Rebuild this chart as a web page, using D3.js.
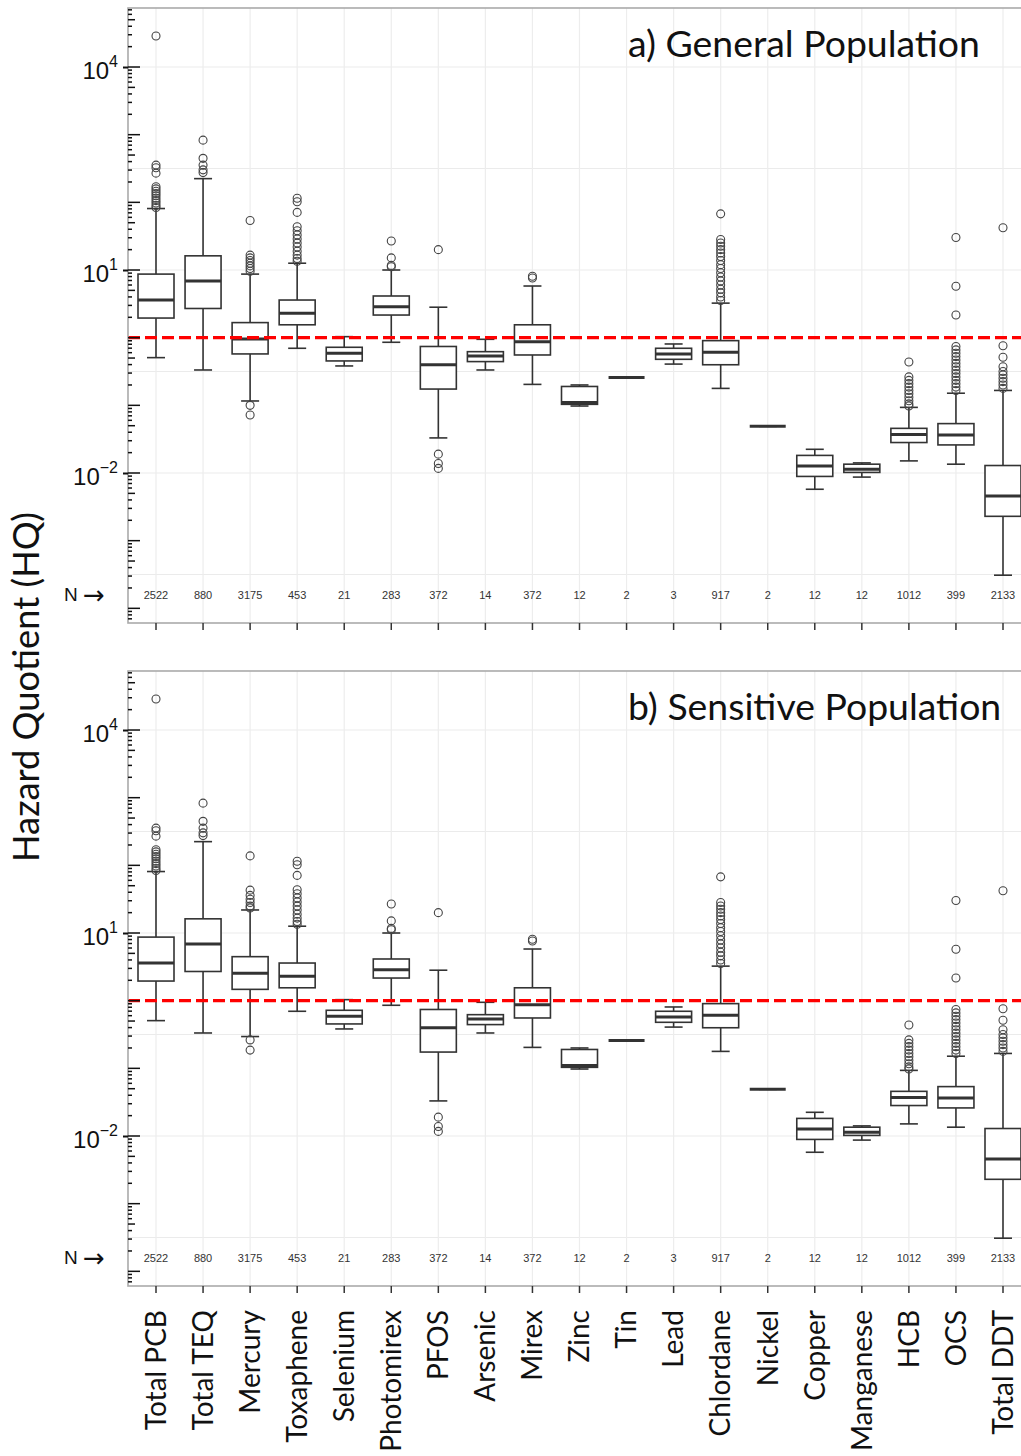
<!DOCTYPE html>
<html lang="en">
<head>
<meta charset="UTF-8">
<title>Hazard Quotient by contaminant</title>
<script src="https://cdn.jsdelivr.net/npm/d3@7/dist/d3.min.js"></script>
<style>
    body { margin: 0; background: #fff; }
    svg { display: block; }
</style>
</head>
<body>
<svg id="chart" width="1021" height="1456"></svg>
<script>
// categories and sample sizes (same for both panels)
const categories = ["Total PCB", "Total TEQ", "Mercury", "Toxaphene", "Selenium", "Photomirex", "PFOS",
    "Arsenic", "Mirex", "Zinc", "Tin", "Lead", "Chlordane", "Nickel", "Copper", "Manganese", "HCB", "OCS", "Total DDT"];
const sampleSizes = [2522, 880, 3175, 453, 21, 283, 372, 14, 372, 12, 2, 3, 917, 2, 12, 12, 1012, 399, 2133];

// a) general population - box statistics (HQ)
const genLower  = [0.507, 0.333, 0.116, 0.697, 0.382, 0.855, 0.033, 0.333, 0.204, 0.0977, 0.257, 0.407, 0.178, 0.049, 0.00575, 0.0087, 0.0151, 0.0135, 0.000309];
const genQ1     = [1.95, 2.7, 0.575, 1.55, 0.453, 2.16, 0.174, 0.443, 0.555, 0.1035, 0.257, 0.479, 0.398, 0.049, 0.0089, 0.0102, 0.0282, 0.026, 0.00229];
const genMedian = [3.6, 6.9, 0.955, 2.29, 0.589, 2.87, 0.398, 0.537, 0.871, 0.11, 0.257, 0.575, 0.608, 0.049, 0.0127, 0.01135, 0.0372, 0.0363, 0.00457];
const genQ3     = [8.7, 16.2, 1.67, 3.6, 0.721, 4.13, 0.741, 0.621, 1.55, 0.19, 0.257, 0.697, 0.904, 0.049, 0.0182, 0.0135, 0.0457, 0.0537, 0.0129];
const genUpper  = [81, 224, 8.7, 12.6, 1.035, 10, 2.82, 0.946, 5.8, 0.2, 0.257, 0.807, 3.24, 0.049, 0.0224, 0.0141, 0.0933, 0.151, 0.166];
const genOutliers = [
    [28800, 355, 324, 270, 170, 158, 146, 135, 125, 115, 106, 98, 90, 84],
    [830, 447, 355, 302, 275],
    [54, 16.6, 15.1, 13.8, 12.6, 11.5, 10.5, 9.6, 0.1, 0.072],
    [115, 102, 71, 43.6, 38, 33, 28.8, 25, 21.9, 19, 16.6, 14.8, 13.5],
    [],
    [26.9, 15.1, 11.7, 11.2],
    [20, 0.019, 0.0138, 0.0117],
    [],
    [8.1, 7.6],
    [], [], [],
    [67.6, 28.2, 25.1, 22.4, 20, 17.8, 15.8, 13.8, 12, 10.5, 9.1, 7.9, 6.9, 6.0, 5.2, 4.6, 4.0, 3.55],
    [], [], [],
    [0.437, 0.263, 0.234, 0.209, 0.186, 0.166, 0.148, 0.132, 0.117, 0.105, 0.098],
    [30.2, 5.75, 2.16, 0.741, 0.66, 0.589, 0.525, 0.468, 0.417, 0.372, 0.331, 0.295, 0.263, 0.234, 0.209, 0.186, 0.166],
    [42.2, 0.759, 0.513, 0.372, 0.316, 0.282, 0.251, 0.224, 0.2, 0.178]
];

// b) sensitive population - box statistics (HQ)
const senLower  = [0.507, 0.333, 0.295, 0.697, 0.382, 0.855, 0.033, 0.333, 0.204, 0.0977, 0.257, 0.407, 0.178, 0.049, 0.00575, 0.0087, 0.0151, 0.0135, 0.000309];
const senQ1     = [1.95, 2.7, 1.47, 1.55, 0.453, 2.16, 0.174, 0.443, 0.555, 0.1035, 0.257, 0.479, 0.398, 0.049, 0.0089, 0.0102, 0.0282, 0.026, 0.00229];
const senMedian = [3.6, 6.9, 2.54, 2.29, 0.589, 2.87, 0.398, 0.537, 0.871, 0.11, 0.257, 0.575, 0.608, 0.049, 0.0127, 0.01135, 0.0372, 0.0363, 0.00457];
const senQ3     = [8.7, 16.2, 4.47, 3.6, 0.721, 4.13, 0.741, 0.621, 1.55, 0.19, 0.257, 0.697, 0.904, 0.049, 0.0182, 0.0135, 0.0457, 0.0537, 0.0129];
const senUpper  = [81, 224, 21.9, 12.6, 1.035, 10, 2.82, 0.946, 5.8, 0.2, 0.257, 0.807, 3.24, 0.049, 0.0224, 0.0141, 0.0933, 0.151, 0.166];
const senOutliers = [
    [28800, 355, 324, 270, 170, 158, 146, 135, 125, 115, 106, 98, 90, 84],
    [830, 447, 355, 302, 275],
    [138, 43, 36, 31.6, 28.2, 25, 23.4, 0.263, 0.186],
    [115, 102, 71, 43.6, 38, 33, 28.8, 25, 21.9, 19, 16.6, 14.8, 13.5],
    [],
    [26.9, 15.1, 11.7, 11.2],
    [20, 0.019, 0.0138, 0.0117],
    [],
    [8.1, 7.6],
    [], [], [],
    [67.6, 28.2, 25.1, 22.4, 20, 17.8, 15.8, 13.8, 12, 10.5, 9.1, 7.9, 6.9, 6.0, 5.2, 4.6, 4.0, 3.55],
    [], [], [],
    [0.437, 0.263, 0.234, 0.209, 0.186, 0.166, 0.148, 0.132, 0.117, 0.105, 0.098],
    [30.2, 5.75, 2.16, 0.741, 0.66, 0.589, 0.525, 0.468, 0.417, 0.372, 0.331, 0.295, 0.263, 0.234, 0.209, 0.186, 0.166],
    [42.2, 0.759, 0.513, 0.372, 0.316, 0.282, 0.251, 0.224, 0.2, 0.178]
];

// axis values
const yDomain = [6.07e-5, 7.45e4];
const labelTicks = [1e4, 1e1, 1e-2];
const labelExponents = ["4", "1", "\u22122"];
const gridValues = [10000, 316.2, 10, 0.3162, 0.01, 0.0003162];
const hqThreshold = 1;
const nRowValue = 1.5e-4;

const svg = d3.select("#chart");
const left = 128, right = 1031;
const x = d3.scalePoint().domain(categories).range([156, 1003]);
const boxW = 36, capW = 18;

const panels = [
    {title: "a) General Population", top: 8, bottom: 623, lower: genLower, q1: genQ1, med: genMedian, q3: genQ3, upper: genUpper, out: genOutliers},
    {title: "b) Sensitive Population", top: 671, bottom: 1286, lower: senLower, q1: senQ1, med: senMedian, q3: senQ3, upper: senUpper, out: senOutliers}
];

function fitFont(sel, target) {
    const w = sel.node().getComputedTextLength();
    const fs = parseFloat(sel.attr("font-size"));
    sel.attr("font-size", (fs * target / w).toFixed(2));
}

function drawPanel(p) {
    const y = d3.scaleLog().domain(yDomain).range([p.bottom, p.top]);
    const g = svg.append("g");

    // clip to panel
    const clipId = "clip" + p.top;
    svg.append("clipPath").attr("id", clipId)
        .append("rect").attr("x", left).attr("y", p.top).attr("width", right - left).attr("height", p.bottom - p.top);

    const inner = g.append("g").attr("clip-path", `url(#${clipId})`);

    // gridlines
    inner.selectAll(".hgrid").data(gridValues).join("line")
        .attr("x1", left).attr("x2", right)
        .attr("y1", d => y(d)).attr("y2", d => y(d))
        .attr("stroke", "#ebebeb").attr("stroke-width", 1.2);
    inner.selectAll(".vgrid").data(categories).join("line")
        .attr("x1", d => x(d)).attr("x2", d => x(d))
        .attr("y1", p.top).attr("y2", p.bottom)
        .attr("stroke", "#ededed").attr("stroke-width", 1.2);

    // whiskers
    const boxes = inner.selectAll(".box").data(categories).join("g");
    boxes.append("line")
        .attr("x1", d => x(d)).attr("x2", d => x(d))
        .attr("y1", (d, i) => y(p.lower[i])).attr("y2", (d, i) => y(p.upper[i]))
        .attr("stroke", "#333").attr("stroke-width", 1.6);
    boxes.append("line")
        .attr("x1", d => x(d) - capW / 2).attr("x2", d => x(d) + capW / 2)
        .attr("y1", (d, i) => y(p.lower[i])).attr("y2", (d, i) => y(p.lower[i]))
        .attr("stroke", "#333").attr("stroke-width", 1.6);
    boxes.append("line")
        .attr("x1", d => x(d) - capW / 2).attr("x2", d => x(d) + capW / 2)
        .attr("y1", (d, i) => y(p.upper[i])).attr("y2", (d, i) => y(p.upper[i]))
        .attr("stroke", "#333").attr("stroke-width", 1.6);
    boxes.append("rect")
        .attr("x", d => x(d) - boxW / 2).attr("width", boxW)
        .attr("y", (d, i) => y(p.q3[i])).attr("height", (d, i) => y(p.q1[i]) - y(p.q3[i]))
        .attr("fill", "#fff").attr("stroke", "#333").attr("stroke-width", 1.6);
    boxes.append("line")
        .attr("x1", d => x(d) - boxW / 2).attr("x2", d => x(d) + boxW / 2)
        .attr("y1", (d, i) => y(p.med[i])).attr("y2", (d, i) => y(p.med[i]))
        .attr("stroke", "#333").attr("stroke-width", 3);

    // outliers
    boxes.each(function (d, i) {
        d3.select(this).selectAll("circle").data(p.out[i]).join("circle")
            .attr("cx", x(d)).attr("cy", v => y(v)).attr("r", 4)
            .attr("fill", "none").attr("stroke", "#444").attr("stroke-width", 1.1);
    });

    // threshold HQ = 1
    inner.append("line")
        .attr("x1", left).attr("x2", right)
        .attr("y1", y(hqThreshold)).attr("y2", y(hqThreshold))
        .attr("stroke", "#ff0000").attr("stroke-width", 3.2)
        .attr("stroke-dasharray", "12,5");

    // sample sizes
    g.selectAll(".nlab").data(categories).join("text")
        .attr("x", d => x(d)).attr("y", y(nRowValue))
        .attr("text-anchor", "middle").attr("dominant-baseline", "middle")
        .attr("font-family", "Liberation Sans, Arial, sans-serif").attr("font-size", 11)
        .attr("fill", "#333")
        .text((d, i) => sampleSizes[i]);
    const nLab = g.append("text")
        .attr("x", 64).attr("y", y(nRowValue))
        .attr("dominant-baseline", "middle")
        .attr("font-family", "Liberation Sans, Arial, sans-serif").attr("font-size", 19)
        .attr("fill", "#111");
    nLab.append("tspan").text("N ");
    nLab.append("tspan").attr("font-family", "DejaVu Sans, sans-serif").attr("font-size", 26).text("\u2192");

    // panel frame
    g.append("rect")
        .attr("x", left).attr("y", p.top).attr("width", right - left).attr("height", p.bottom - p.top)
        .attr("fill", "none").attr("stroke", "#aaa").attr("stroke-width", 1.6);

    // log ticks inside the left axis
    const logTicks = [];
    for (let e = -5; e <= 4; e++) {
        for (let k = 1; k <= 9; k++) {
            const v = k * Math.pow(10, e);
            if (v >= yDomain[0] && v <= yDomain[1]) logTicks.push({v: v, len: k === 1 ? 12 : (k === 5 ? 7 : 4)});
        }
    }
    g.selectAll(".logtick").data(logTicks).join("line")
        .attr("x1", left).attr("x2", d => left + d.len)
        .attr("y1", d => y(d.v)).attr("y2", d => y(d.v))
        .attr("stroke", "#111").attr("stroke-width", 1.5);

    // labelled y axis
    const axis = g.append("g").attr("transform", `translate(${left},0)`)
        .call(d3.axisLeft(y).tickValues(labelTicks).tickSizeInner(5).tickSizeOuter(0).tickFormat(""));
    axis.select(".domain").remove();
    axis.selectAll(".tick line").attr("stroke", "#111").attr("stroke-width", 2);
    axis.selectAll(".tick text")
        .attr("x", -10).attr("dy", null).attr("y", 11.5)
        .attr("text-anchor", "end")
        .attr("font-family", "Liberation Sans, Arial, sans-serif").attr("font-size", 24)
        .attr("fill", "#111")
        .each(function (d, i) {
            const t = d3.select(this);
            t.text(null);
            t.append("tspan").text("10");
            t.append("tspan").attr("dy", -12).attr("font-size", 16).text(labelExponents[i]);
        });

    // x ticks
    g.selectAll(".xtick").data(categories).join("line")
        .attr("x1", d => x(d)).attr("x2", d => x(d))
        .attr("y1", p.bottom).attr("y2", p.bottom + 7)
        .attr("stroke", "#333").attr("stroke-width", 1.5);

    // panel title
    const title = g.append("text")
        .attr("x", 628).attr("y", p.top + 49)
        .attr("font-family", "Lato, 'Open Sans', sans-serif").attr("font-size", 36)
        .attr("fill", "#111")
        .text(p.title);
    return {title: title, y: y};
}

const drawn = panels.map(p => drawPanel(p));

// scale titles to match
fitFont(drawn[0].title, 352);
drawn[1].title.attr("font-size", drawn[0].title.attr("font-size"));

// category labels under the lower panel
const probe = svg.append("text").attr("font-family", "Lato, sans-serif").attr("font-size", 30).text("Manganese");
fitFont(probe, 141);
const labelSize = probe.attr("font-size");
probe.remove();
svg.selectAll(".xlabel").data(categories).join("text")
    .attr("class", "xlabel")
    .attr("transform", d => `translate(${x(d)},1310) rotate(-90)`)
    .attr("dy", "0.35em")
    .attr("text-anchor", "end")
    .attr("font-family", "Lato, sans-serif").attr("font-size", labelSize)
    .attr("fill", "#111")
    .text(d => d);

// y axis title
const yTitle = svg.append("text")
    .attr("transform", "translate(39,687) rotate(-90)")
    .attr("text-anchor", "middle")
    .attr("font-family", "Lato, sans-serif").attr("font-size", 36)
    .attr("fill", "#111")
    .text("Hazard Quotient (HQ)");
fitFont(yTitle, 350);
</script>
</body>
</html>
